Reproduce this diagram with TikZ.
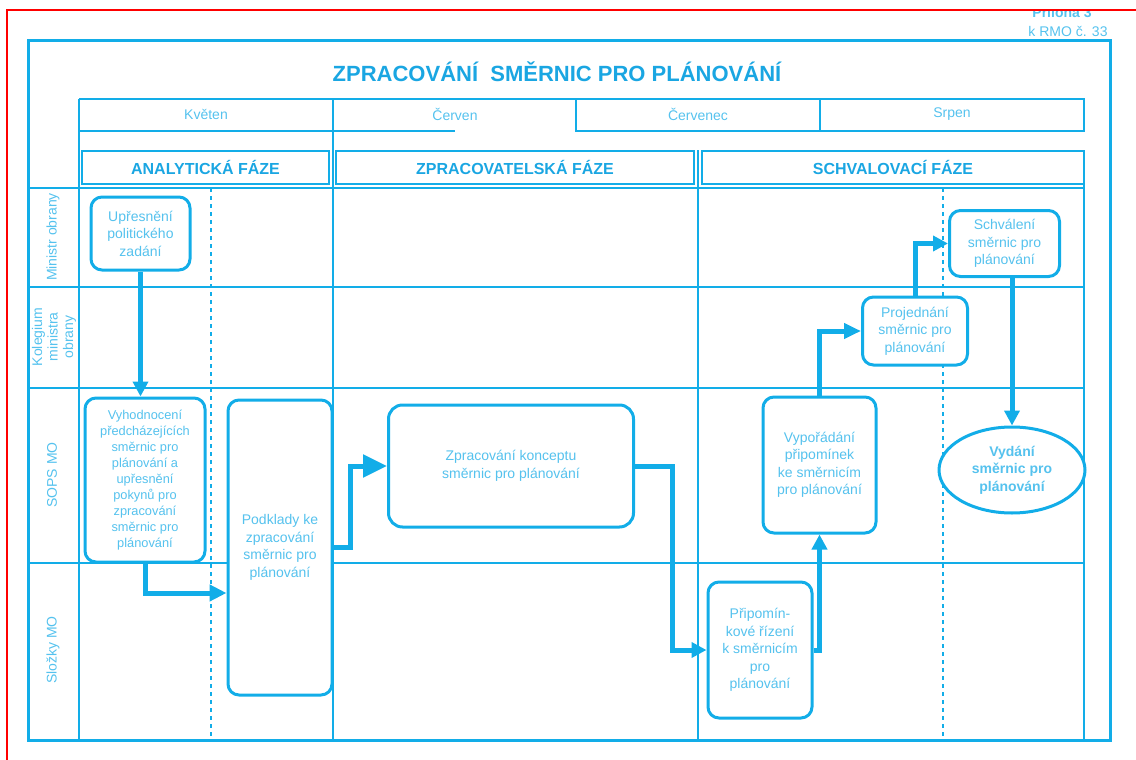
\documentclass[tikz,border=0pt]{standalone}
\usepackage{fontspec}
\setmainfont{Liberation Sans}
\usetikzlibrary{arrows.meta,shapes.geometric,calc}
\definecolor{lc}{HTML}{12ADE8}
\definecolor{tc}{HTML}{55C2EE}
\definecolor{hc}{HTML}{1AA6E2}
\begin{document}
\begin{tikzpicture}[x=1pt,y=-1pt,
  grid/.style={draw=lc,line width=1.5pt},
  frame/.style={draw=lc,line width=3pt},
  phase/.style={draw=lc,line width=2.5pt},
  dotline/.style={draw=lc,line width=2pt,dash pattern=on 4pt off 4pt},
  box/.style={draw=lc,fill=white,line width=3pt,rounded corners=11pt,text=tc,font=\fontsize{14}{17.5}\selectfont,align=center,inner sep=0pt,rectangle},
  oval/.style={draw=lc,fill=white,line width=3pt,ellipse,text=tc,font=\bfseries\fontsize{14}{17.5}\selectfont,align=center,inner sep=0pt},
  flow/.style={draw=lc,line width=5pt,-{Triangle[length=15pt,width=15pt]}},
  bigflow/.style={draw=lc,line width=5pt,-{Triangle[length=24pt,width=22pt]}},
  month/.style={text=tc,font=\fontsize{14}{17}\selectfont},
  phasetxt/.style={text=hc,font=\bfseries\fontsize{16}{19}\selectfont},
  lane/.style={text=tc,font=\fontsize{14}{15.5}\selectfont,align=center,rotate=90}]
\useasboundingbox (0,0) rectangle (1136,760);
% header note (clipped by red frame)
\begin{scope}
\clip (0,11) rectangle (1136,760);
\node[text=tc,font=\bfseries\fontsize{14}{16}\selectfont] (pril) at (1062,12.5) {Příloha 3};
\end{scope}
\node[text=tc,font=\fontsize{14}{16}\selectfont] (rmo) at (1068,31) {k RMO č. 33};
\draw[red,line width=2pt] (7,760) -- (7,10) -- (1136,10);
% outer frame
\draw[frame] (28,41) rectangle (1110,740);
\node[text=hc,font=\bfseries\fontsize{22}{26}\selectfont] (title) at (557,72) {ZPRACOVÁNÍ\ \ SMĚRNIC PRO PLÁNOVÁNÍ};
% month row
\draw[grid] (79,99) -- (1084,99) -- (1084,131) -- (576,131) -- (576,99)
  (820,99) -- (820,131) (79,131) -- (455,131);
\node[month] (m1) at (206,114) {Květen};
\node[month] (m2) at (455,114) {Červen};
\node[month] (m3) at (698,114) {Červenec};
\node[month] (m4) at (952,114) {Srpen};
% long verticals
\draw[grid] (79,99) -- (79,740) (333,99) -- (333,740) (698,150) -- (698,740) (1084,150) -- (1084,740);
% lane lines
\draw[grid] (28,188) -- (1084,188) (28,287) -- (1084,287) (28,388) -- (1084,388) (28,563) -- (1084,563);
\draw[dotline] (211,188) -- (211,740) (943,188) -- (943,740);
% phase boxes
\draw[phase] (82,151) rectangle (329,184) (336,151) rectangle (694,184) (702,151) rectangle (1084,184);
\node[phasetxt] (p1) at (205.5,167.5) {ANALYTICKÁ FÁZE};
\node[phasetxt] (p2) at (515,167.5) {ZPRACOVATELSKÁ FÁZE};
\node[phasetxt] (p3) at (893,167.5) {SCHVALOVACÍ FÁZE};
% lane labels
\node[lane] (l1) at (53,237) {Ministr obrany};
\node[lane] (l2) at (54,337) {Kolegium\\ministra\\obrany};
\node[lane] (l3) at (52,475) {SOPS MO};
\node[lane] (l4) at (53,650) {Složky MO};
% process nodes
\node[box,minimum width=99pt,minimum height=73pt] (n1) at (140.5,233.5) {Upřesnění\\politického\\zadání};
\node[box,minimum width=120pt,minimum height=164pt,font=\fontsize{12.8}{16}\selectfont] (n2) at (145,480) {Vyhodnocení\\předcházejících\\směrnic pro\\plánování a\\upřesnění\\pokynů pro\\zpracování\\směrnic pro\\plánování};
\node[box,minimum width=104pt,minimum height=295pt] (n3) at (280,547.5) {Podklady ke\\zpracování\\směrnic pro\\plánování};
\node[box,minimum width=245pt,minimum height=122pt,rounded corners=14pt] (n4) at (511,466) {Zpracování konceptu\\směrnic pro plánování};
\node[box,minimum width=104pt,minimum height=136pt] (n5) at (760,650) {Připomín-\\kové řízení\\k směrnicím\\pro\\plánování};
\node[box,minimum width=113pt,minimum height=136pt] (n6) at (819.5,465) {Vypořádání\\připomínek\\ke směrnicím\\pro plánování};
\node[box,minimum width=105pt,minimum height=68pt] (n7) at (915,331) {Projednání\\směrnic pro\\plánování};
\node[box,minimum width=110pt,minimum height=66pt] (n8) at (1004.5,243.5) {Schválení\\směrnic pro\\plánování};
\node[oval,minimum width=146pt,minimum height=86pt] (n9) at (1012,470) {Vydání\\směrnic pro\\plánování};
% connectors
\draw[flow] (n1.south) -- (n1.south |- n2.north);
\draw[flow,-{Triangle[length=17pt,width=16pt]}] (n2.south) |- ($(n3.west)+(0,45.5)$);
\draw[bigflow] (n3.east) -- ++(17,0) |- (n4.west);
\draw[flow] (n4.east) -- ++(37,0) |- (n5.west);
\draw[flow] (n5.east) -| (n6.south);
\draw[flow,-{Triangle[length=17pt,width=15pt]}] (n6.north) |- (n7.west);
\draw[flow] (n7.north) |- (n8.west);
\draw[flow] (n9.north |- n8.south) -- (n9.north);
\end{tikzpicture}
\end{document}
